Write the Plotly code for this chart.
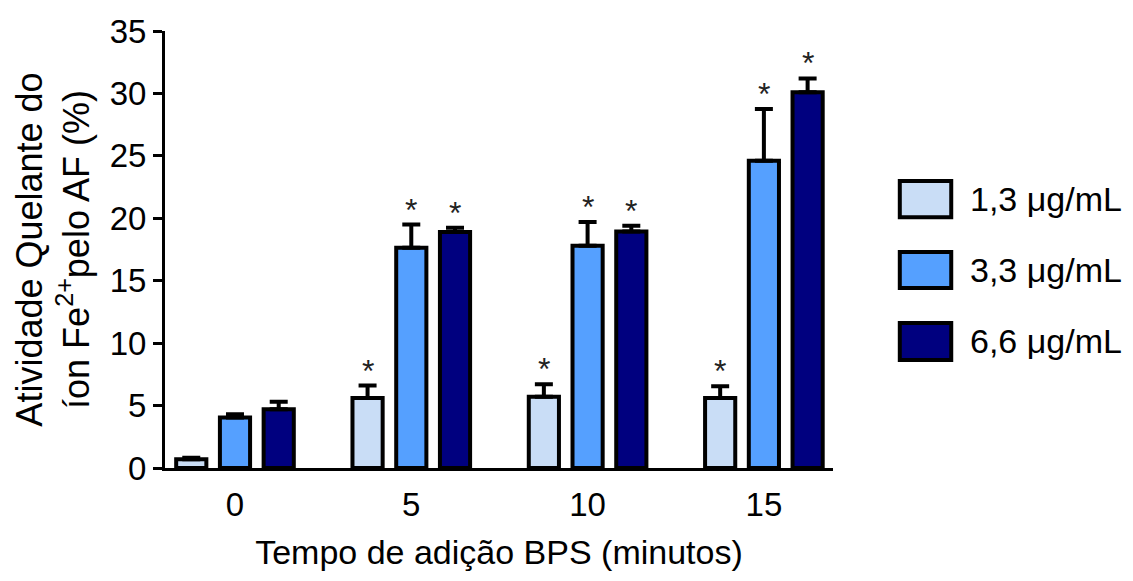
import plotly.graph_objects as go

categories = ["0", "5", "10", "15"]
series_names = ["1,3 μg/mL", "3,3 μg/mL", "6,6 μg/mL"]
vals_13 = [0.7, 5.6, 5.7, 5.6]
err_13 = [0.13, 1.0, 1.0, 0.95]
vals_33 = [4.05, 17.65, 17.8, 24.6]
err_33 = [0.25, 1.85, 1.9, 4.15]
vals_66 = [4.7, 18.9, 18.95, 30.1]
err_66 = [0.6, 0.35, 0.45, 1.1]
# significance marks (1 = asterisk)
sig_13 = [0, 1, 1, 1]
sig_33 = [0, 1, 1, 1]
sig_66 = [0, 1, 1, 1]
y_ticks = [0, 5, 10, 15, 20, 25, 30, 35]

colors = ["#C9DDF6", "#55A0FF", "#00007F"]
FONT = "Liberation Sans, Arial, sans-serif"
BARGAP = 0.256
BARGROUPGAP = 0.31

series = [(vals_13, err_13, sig_13), (vals_33, err_33, sig_33), (vals_66, err_66, sig_66)]

fig = go.Figure()
for j, (v, e, s) in enumerate(series):
    fig.add_trace(go.Bar(
        x=categories, y=v, name=series_names[j],
        marker=dict(color=colors[j], line=dict(color="black", width=4)),
        error_y=dict(type="data", array=e, arrayminus=[0]*len(e), symmetric=False,
                     color="black", thickness=4, width=9),
        showlegend=False,
    ))

slot = (1 - BARGAP) / 3
annotations = []
for j, (v, e, s) in enumerate(series):
    for i in range(len(categories)):
        if s[i]:
            annotations.append(dict(
                x=i + (j - 1) * slot, y=v[i] + e[i], xref="x", yref="y",
                text="*", showarrow=False, yanchor="bottom", yshift=-5,
                font=dict(family=FONT, size=32, color="#222222")))

# manual legend (large boxes as in reference)
shapes = []
box_x0, box_x1 = 1.100, 1.177
box_ys = [(0.574, 0.657), (0.412, 0.494), (0.247, 0.332)]
for j, (y0, y1) in enumerate(box_ys):
    shapes.append(dict(type="rect", xref="paper", yref="paper",
                       x0=box_x0, x1=box_x1, y0=y0, y1=y1,
                       fillcolor=colors[j], line=dict(color="black", width=4)))
    annotations.append(dict(xref="paper", yref="paper", x=1.202, y=(y0 + y1) / 2,
                            text=series_names[j], showarrow=False,
                            xanchor="left", yanchor="middle",
                            font=dict(family=FONT, size=34, color="black")))

# page body has an 8px margin, so the figure is sized/offset to compensate
fig.update_layout(
    width=1125, height=573,
    margin=dict(l=157, r=300, t=23, b=113, autoexpand=False),
    paper_bgcolor="white", plot_bgcolor="white",
    barmode="group", bargap=BARGAP, bargroupgap=BARGROUPGAP,
    font=dict(family=FONT, color="black"),
    shapes=shapes, annotations=annotations,
    xaxis=dict(type="category", range=[-0.397, 3.392], automargin=False,
               showline=True, linecolor="black", linewidth=3,
               ticks="", ticklabelstandoff=5,
               tickfont=dict(size=33, family=FONT),
               title=dict(text="Tempo de adição BPS (minutos)",
                          font=dict(size=34, family=FONT), standoff=19),
               showgrid=False, zeroline=False),
    yaxis=dict(range=[0, 35], tickvals=y_ticks, automargin=False,
               showline=True, linecolor="black", linewidth=3,
               ticks="outside", ticklen=9, tickwidth=3, tickcolor="black",
               tickfont=dict(size=33, family=FONT),
               title=dict(text="Atividade Quelante do<br>íon Fe<sup>2+</sup>pelo AF (%)",
                          font=dict(size=36, family=FONT), standoff=10),
               showgrid=False, zeroline=False),
)

fig.write_html("out.html")
